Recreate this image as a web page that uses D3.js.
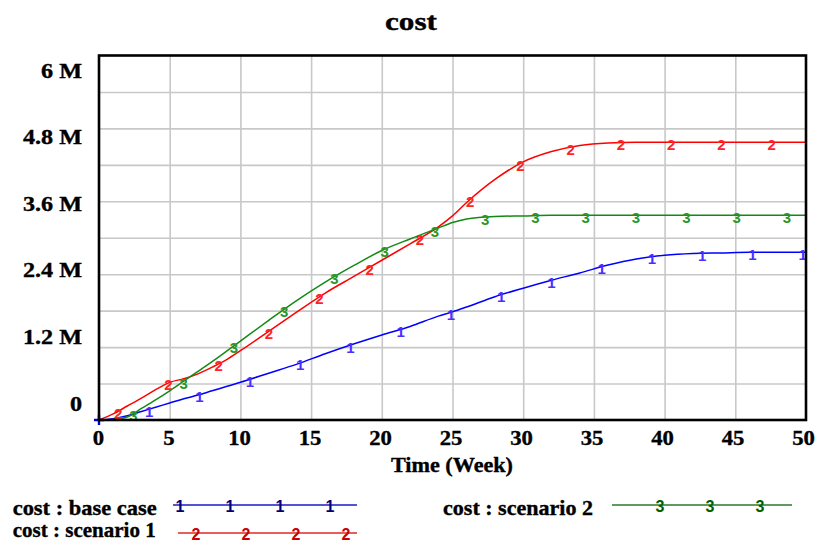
<!DOCTYPE html>
<html><head><meta charset="utf-8">
<script src="https://cdn.jsdelivr.net/npm/d3@7"></script>
<style>
body{margin:0;background:#fff}
svg{display:block}
.serif{font-family:"Liberation Serif","Times New Roman",serif;font-weight:bold;fill:#000;stroke:#000;stroke-width:0.35px}
.mk{font-family:"Liberation Sans",Arial,sans-serif;font-weight:bold}
</style>
</head><body>
<svg id="c" width="818" height="544"></svg>
<script>
// ---- data (values in M) ----
const weeks     = [0,1,2,3,4,5,6,7,8,9,10,12,14,16,18,20,22,24,25,26,28,30,32,34,36,38,40,42,44,46,48,50];
const baseCase  = [0,0.02,0.07,0.14,0.21,0.28,0.35,0.41,0.48,0.55,0.62,0.77,0.92,1.09,1.25,1.40,1.54,1.71,1.78,1.86,2.03,2.17,2.30,2.42,2.55,2.65,2.71,2.74,2.75,2.76,2.76,2.76];
const scenario1 = [0,0.10,0.23,0.36,0.50,0.62,0.68,0.76,0.87,0.99,1.14,1.46,1.78,2.09,2.36,2.63,2.90,3.18,3.36,3.58,3.96,4.25,4.42,4.52,4.56,4.57,4.57,4.57,4.57,4.57,4.57,4.57];
const scenario2 = [0,0.01,0.05,0.19,0.33,0.48,0.64,0.80,0.96,1.13,1.30,1.64,1.97,2.27,2.54,2.79,2.98,3.16,3.25,3.31,3.35,3.36,3.37,3.37,3.37,3.37,3.37,3.37,3.37,3.37,3.37,3.37];
const seriesNames  = ["cost : base case","cost : scenario 1","cost : scenario 2"];
const seriesMarks  = ["1","2","3"];
const xTicks       = [0,5,10,15,20,25,30,35,40,45,50];
const yTicks       = [0,1.2,2.4,3.6,4.8,6];
const yTickLabels  = ["0","1.2 M","2.4 M","3.6 M","4.8 M","6 M"];
const yGrid        = [0.6,1.2,1.8,2.4,3.0,3.6,4.2,4.8,5.4];
const xGrid        = [5,10,15,20,25,30,35,40,45];
const titleText    = "cost";
const xAxisTitle   = "Time (Week)";

// ---- styles ----
const lineColors   = ["#0000ff","#ff0000","#138a13"];
const markColors   = ["#4a30ff","#ff2424","#2a962a"];
const legLineCols  = ["#1a1ac8","#e02828","#2a782a"];
const legMarkCols  = ["#00007a","#c80000","#006000"];
const markStart    = [3.555,1.36,2.43];
const markStep     = 3.555;

const svg = d3.select("#c");
const L=99,R=806,T=55.5,B=420;
const x = d3.scaleLinear().domain([0,50]).range([L,R]);
const y = d3.scaleLinear().domain([0,6]).range([B,T]);
const xLab = d3.scaleLinear().domain([0,50]).range([98,803]);
const yLab = d3.scaleLinear().domain([0,6]).range([403,70]);

function stretch(sel,f){ sel.each(function(){ const w=this.getComputedTextLength(); d3.select(this).attr("textLength",w*f).attr("lengthAdjust","spacingAndGlyphs"); }); }

// grid
const gx = svg.append("g").attr("transform",`translate(0,${B})`)
  .call(d3.axisBottom(x).tickValues(xGrid).tickSize(-(B-T)).tickFormat(""));
gx.select(".domain").remove();
gx.selectAll("line").attr("stroke","#c8c8c8").attr("stroke-width",1.6);
const gy = svg.append("g").attr("transform",`translate(${L},0)`)
  .call(d3.axisLeft(y).tickValues(yGrid).tickSize(-(R-L)).tickFormat(""));
gy.select(".domain").remove();
gy.selectAll("line").attr("stroke","#c8c8c8").attr("stroke-width",1.6);

// series
const series = [baseCase,scenario1,scenario2];
const line = d3.line().x(d=>x(d[0])).y(d=>y(d[1])).curve(d3.curveMonotoneX);
series.forEach((vals,i)=>{
  const pts = weeks.map((w,j)=>[w,vals[j]]);
  svg.append("path").attr("d",line(pts)).attr("fill","none")
    .attr("stroke",lineColors[i]).attr("stroke-width",1.5);
});
series.forEach((vals,i)=>{
  const interp = d3.scaleLinear().domain(weeks).range(vals);
  const ts = d3.range(markStart[i],49.8,markStep);
  svg.append("g").selectAll("text").data(ts).join("text")
    .attr("class","mk").attr("x",t=>x(t)).attr("y",t=>y(interp(t))+3.5)
    .attr("text-anchor","middle").attr("dominant-baseline","middle")
    .attr("font-size",15).attr("fill",markColors[i]).text(seriesMarks[i]);
});
// origin cross of base case
const ox = x(weeks[0]), oy = y(baseCase[0]);
svg.append("path").attr("d",`M${ox-5},${oy}H${ox+5}M${ox},${oy-5}V${oy+5}`)
  .attr("stroke","#0000cc").attr("stroke-width",2.4);

// frame
svg.append("rect").attr("x",L).attr("y",T).attr("width",R-L).attr("height",B-T)
  .attr("fill","none").attr("stroke","#000").attr("stroke-width",2.6);

// axis labels
const ay = svg.append("g").attr("transform","translate(82,0)")
  .call(d3.axisLeft(yLab).tickValues(yTicks).tickSize(0).tickPadding(0).tickFormat((d,i)=>yTickLabels[i]));
ay.select(".domain").remove();
ay.selectAll("text").attr("class","serif").attr("font-size",21).attr("x",0).attr("dy","0.34em");
stretch(ay.selectAll("text"),1.15);

const ax = svg.append("g").attr("transform","translate(0,445)")
  .call(d3.axisBottom(xLab).tickValues(xTicks).tickSize(0).tickFormat(d3.format("d")));
ax.select(".domain").remove();
ax.selectAll("text").attr("class","serif").attr("font-size",21).attr("y",0).attr("dy",0);
stretch(ax.selectAll("text"),1.08);

svg.append("text").attr("class","serif").attr("x",452).attr("y",472).attr("text-anchor","middle")
  .attr("font-size",21).attr("textLength",122).attr("lengthAdjust","spacingAndGlyphs").text(xAxisTitle);

svg.append("text").attr("class","serif").attr("x",411).attr("y",30).attr("text-anchor","middle")
  .attr("font-size",25).attr("textLength",52).attr("lengthAdjust","spacingAndGlyphs").text(titleText);

// legend
const leg = [
  {tx:12.7, base:515, w:144, x0:173, x1:357, ly:505, m0:180, n:4},
  {tx:12.7, base:537, w:143, x0:178, x1:357, ly:533, m0:196, n:4},
  {tx:443,  base:515, w:150, x0:612, x1:792, ly:505, m0:660, n:3}
];
leg.forEach((g,i)=>{
  svg.append("text").attr("class","serif").attr("x",g.tx).attr("y",g.base)
    .attr("font-size",21).attr("textLength",g.w).attr("lengthAdjust","spacingAndGlyphs").text(seriesNames[i]);
  svg.append("line").attr("x1",g.x0).attr("x2",g.x1).attr("y1",g.ly).attr("y2",g.ly)
    .attr("stroke",legLineCols[i]).attr("stroke-width",1.6);
  svg.append("g").selectAll("text").data(d3.range(g.n)).join("text")
    .attr("class","mk").attr("x",k=>g.m0+k*50).attr("y",g.ly+3)
    .attr("text-anchor","middle").attr("dominant-baseline","middle")
    .attr("font-size",16).attr("fill",legMarkCols[i]).text(seriesMarks[i]);
});
</script>
</body></html>
